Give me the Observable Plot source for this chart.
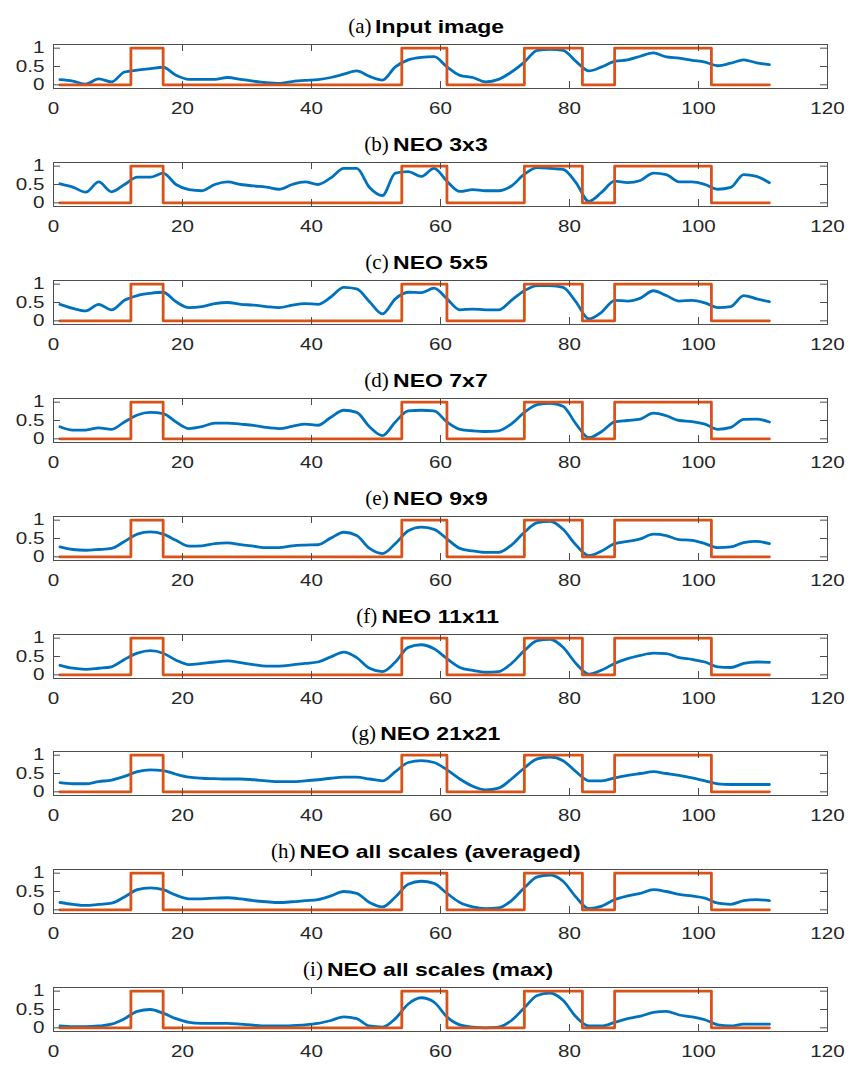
<!DOCTYPE html>
<html><head><meta charset="utf-8">
<script src="https://cdn.jsdelivr.net/npm/d3@7"></script>
<script src="https://cdn.jsdelivr.net/npm/@observablehq/plot@0.6"></script>
<style>
body{margin:0;background:#fff;}
#wrap{position:relative;width:856px;height:1067px;overflow:hidden;background:#fff;}
.title{position:absolute;left:0;width:880px;text-align:center;white-space:nowrap;color:#000;}
.title .inner{position:relative;display:inline-block;line-height:24px;}
.title .txt{display:inline-block;font:bold 17.7px "Liberation Sans",Arial,sans-serif;line-height:24px;transform:scaleX(1.3);transform-origin:50% 50%;}
.title .lab{position:absolute;top:-1px;font:normal 21px "Liberation Serif","Times New Roman",serif;line-height:24px;}
</style></head>
<body><div id="wrap"></div>
<script>
const labels = ["(a)","(b)","(c)","(d)","(e)","(f)","(g)","(h)","(i)"];
const titles = ["Input image","NEO 3x3","NEO 5x5","NEO 7x7","NEO 9x9","NEO 11x11","NEO 21x21","NEO all scales (averaged)","NEO all scales (max)"];

const sampleX = [1,3,5,7,9,11,13,15,17,19,21,23,25,27,29,31,33,35,37,39,41,43,45,47,49,51,53,55,
  57,59,61,63,65,67,69,71,73,75,77,79,81,83,85,87,89,91,93,95,97,99,101,103,105,107,109,111];

const seriesA = [0.14,0.10,0.02,0.16,0.08,0.35,0.40,0.44,0.48,0.26,0.15,0.15,0.15,0.20,0.15,0.10,0.06,0.04,0.09,0.12,0.14,0.20,0.29,0.38,0.23,0.13,0.49,0.68,
  0.75,0.77,0.49,0.26,0.20,0.08,0.15,0.35,0.62,0.94,0.97,0.94,0.64,0.38,0.49,0.64,0.68,0.78,0.87,0.76,0.73,0.67,0.62,0.52,0.59,0.68,0.60,0.55];
const seriesB = [0.52,0.43,0.29,0.57,0.30,0.50,0.70,0.70,0.81,0.50,0.36,0.33,0.50,0.57,0.50,0.46,0.43,0.37,0.50,0.57,0.50,0.68,0.94,0.94,0.42,0.20,0.81,0.85,
  0.72,0.94,0.59,0.31,0.36,0.33,0.33,0.46,0.78,0.96,0.94,0.91,0.55,0.04,0.29,0.59,0.55,0.61,0.81,0.77,0.57,0.57,0.50,0.37,0.42,0.77,0.72,0.55];
const seriesC = [0.45,0.34,0.27,0.45,0.30,0.56,0.69,0.75,0.78,0.52,0.36,0.39,0.47,0.50,0.45,0.43,0.39,0.36,0.43,0.47,0.45,0.65,0.91,0.87,0.52,0.19,0.60,0.78,
  0.77,0.89,0.60,0.30,0.32,0.30,0.30,0.56,0.82,0.96,0.96,0.91,0.52,0.05,0.24,0.56,0.54,0.62,0.82,0.69,0.54,0.56,0.49,0.36,0.39,0.69,0.60,0.52];
const seriesD = [0.33,0.24,0.24,0.30,0.26,0.46,0.65,0.72,0.69,0.46,0.28,0.33,0.43,0.43,0.40,0.37,0.31,0.28,0.34,0.40,0.37,0.59,0.78,0.72,0.33,0.09,0.46,0.76,
  0.78,0.76,0.46,0.26,0.22,0.20,0.22,0.41,0.72,0.93,0.97,0.89,0.41,0.03,0.20,0.46,0.50,0.54,0.70,0.63,0.50,0.47,0.40,0.26,0.31,0.53,0.54,0.46];
const seriesE = [0.27,0.20,0.18,0.20,0.23,0.42,0.62,0.68,0.62,0.45,0.29,0.30,0.36,0.38,0.33,0.29,0.25,0.25,0.30,0.32,0.33,0.51,0.67,0.58,0.23,0.09,0.36,0.71,
  0.81,0.75,0.49,0.23,0.16,0.12,0.12,0.32,0.67,0.93,0.97,0.75,0.32,0.03,0.16,0.36,0.42,0.49,0.62,0.58,0.47,0.45,0.36,0.25,0.27,0.39,0.42,0.36];
const seriesF = [0.26,0.18,0.15,0.18,0.22,0.42,0.59,0.66,0.59,0.40,0.28,0.31,0.35,0.38,0.33,0.28,0.24,0.24,0.27,0.31,0.35,0.49,0.62,0.47,0.18,0.09,0.35,0.75,
  0.82,0.71,0.44,0.20,0.12,0.07,0.09,0.31,0.66,0.93,0.97,0.75,0.31,0.02,0.13,0.31,0.44,0.53,0.59,0.58,0.47,0.42,0.35,0.22,0.20,0.31,0.35,0.34];
const seriesG = [0.25,0.22,0.22,0.28,0.32,0.42,0.55,0.60,0.58,0.48,0.40,0.37,0.36,0.35,0.35,0.33,0.30,0.28,0.28,0.30,0.33,0.37,0.40,0.40,0.35,0.30,0.55,0.80,
  0.85,0.80,0.60,0.35,0.15,0.05,0.10,0.35,0.65,0.90,0.95,0.85,0.55,0.30,0.30,0.38,0.45,0.50,0.55,0.50,0.45,0.38,0.30,0.22,0.20,0.20,0.20,0.20];
const seriesH = [0.20,0.15,0.12,0.15,0.18,0.35,0.55,0.60,0.55,0.40,0.30,0.30,0.32,0.33,0.30,0.25,0.22,0.20,0.22,0.25,0.28,0.38,0.50,0.45,0.20,0.08,0.35,0.70,
  0.78,0.72,0.45,0.20,0.08,0.03,0.05,0.25,0.60,0.90,0.95,0.78,0.35,0.03,0.10,0.28,0.38,0.45,0.55,0.50,0.42,0.38,0.32,0.18,0.15,0.25,0.28,0.25];
const seriesI = [0.05,0.03,0.03,0.05,0.10,0.25,0.45,0.50,0.40,0.25,0.15,0.12,0.12,0.12,0.10,0.07,0.05,0.05,0.06,0.08,0.12,0.20,0.30,0.25,0.05,0.02,0.25,0.65,
  0.82,0.70,0.30,0.08,0.02,0.00,0.02,0.20,0.55,0.88,0.95,0.75,0.30,0.05,0.05,0.15,0.25,0.32,0.42,0.45,0.35,0.30,0.22,0.08,0.05,0.10,0.10,0.10];
const allSeries = [seriesA,seriesB,seriesC,seriesD,seriesE,seriesF,seriesG,seriesH,seriesI];

// ground truth step signal (same in every panel)
const gtX = [1,12,17,54,61,73,82,87,102,111];
const gtY = [0,1,0,1,0,1,0,1,0,0];

const xTicks = [0,20,40,60,80,100,120];
const yTicks = [0,0.5,1];

const blue = "#0072BD", orange = "#D95319", axisColor = "#262626", frameColor = "#4d4d4d";
const firstBoxTop = 44, period = 117.9;
const W = 856, mL = 53, mR = 29, mT = 6, mB = 32, frameH = 44;
const frameW = W - mL - mR, tick = 7, labelStretch = 1.25;

const wrap = document.getElementById("wrap");
const gt = gtX.map((x,i)=>({x, y: gtY[i]}));

allSeries.forEach((s, k) => {
  const boxTop = firstBoxTop + k*period;
  const t = document.createElement("div");
  t.className = "title";
  t.style.top = (boxTop - 29) + "px";
  t.innerHTML = `<span class="inner"><span class="lab">${labels[k]}</span><span class="txt">${titles[k]}</span></span>`;
  wrap.appendChild(t);
  const txt = t.querySelector(".txt"), lab = t.querySelector(".lab");
  const w = txt.offsetWidth;
  lab.style.right = `calc(100% + ${4 + 0.15*w}px)`;

  const data = sampleX.map((x,i)=>({x, y: s[i]}));
  const svg = Plot.plot({
    width: W, height: mT + frameH + mB,
    marginLeft: mL, marginRight: mR, marginTop: mT, marginBottom: mB,
    x: {domain: [0,120]},
    y: {domain: [-0.1,1.1]},
    style: {fontFamily: '"Liberation Sans", Arial, sans-serif', fontSize: "16.5px", color: axisColor, background: "transparent", overflow: "visible"},
    marks: [
      Plot.line(data, {x: "x", y: "y", stroke: blue, strokeWidth: 2.8, curve: "monotone-x"}),
      Plot.line(gt, {x: "x", y: "y", stroke: orange, strokeWidth: 2.8, curve: "step-after"}),
      Plot.frame({stroke: frameColor, strokeWidth: 1}),
      Plot.tickX(xTicks, {x: d=>d, insetBottom: frameH - tick, stroke: frameColor}),
      Plot.tickX(xTicks, {x: d=>d, insetTop: frameH - tick, stroke: frameColor}),
      Plot.tickY(yTicks, {y: d=>d, insetRight: frameW - tick, stroke: frameColor}),
      Plot.tickY(yTicks, {y: d=>d, insetLeft: frameW - tick, stroke: frameColor}),
      Plot.axisX(xTicks, {tickSize: 0, tickPadding: 14, label: null, fill: axisColor, fontSize: 16.5}),
      Plot.axisY(yTicks, {tickSize: 0, tickPadding: 9, label: null, tickFormat: d => String(d), fill: axisColor, fontSize: 16.5})
    ]
  });
  svg.style.position = "absolute";
  svg.style.top = (boxTop - mT) + "px";
  svg.style.left = "0px";
  wrap.appendChild(svg);
  // MATLAB figure was stretched horizontally: widen tick label glyphs to match
  svg.querySelectorAll('g[aria-label$="tick label"] text').forEach(el => {
    const len = el.getComputedTextLength();
    el.setAttribute("textLength", (len * labelStretch).toFixed(1));
    el.setAttribute("lengthAdjust", "spacingAndGlyphs");
  });
});
</script>
</body></html>
